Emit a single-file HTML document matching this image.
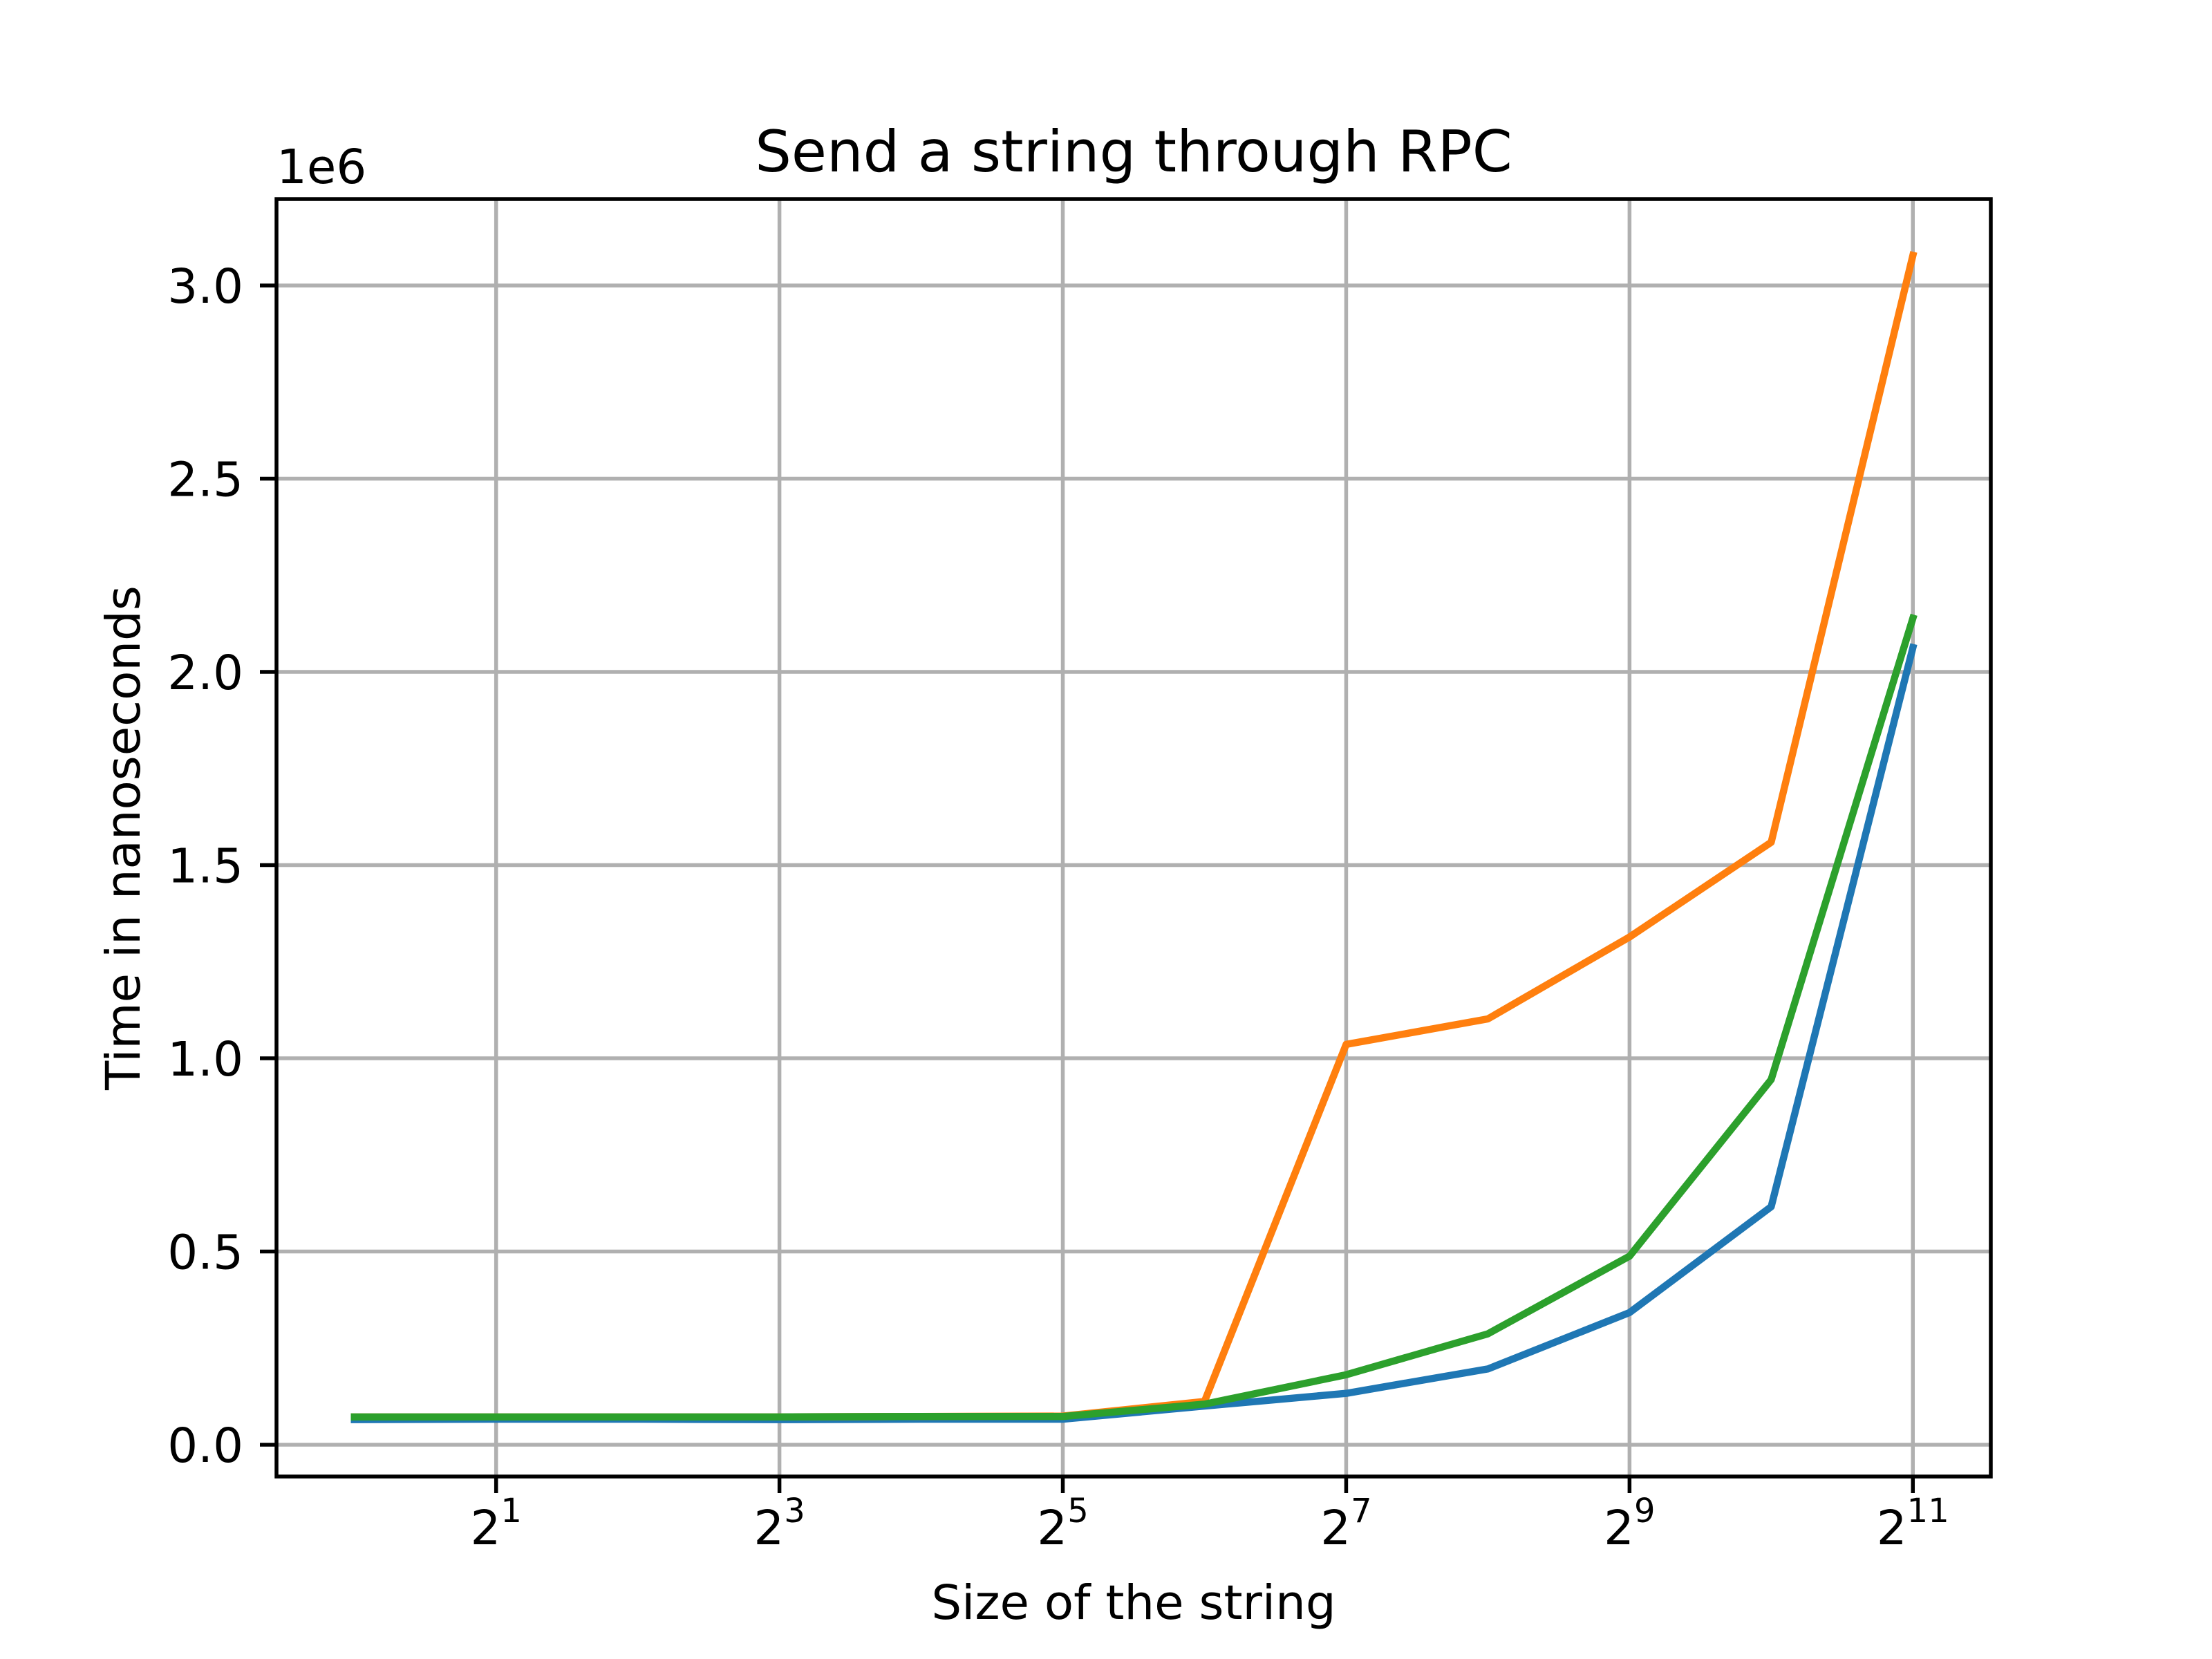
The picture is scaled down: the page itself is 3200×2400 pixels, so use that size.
<!DOCTYPE html>
<html><head><meta charset="utf-8"><style>
html,body{margin:0;padding:0;background:#fff}
svg{display:block}
text{font-family:"DejaVu Sans","Liberation Sans",sans-serif;fill:#000}
</style></head><body>
<svg id="chart" width="3200" height="2400" viewBox="0 0 3200 2400" xmlns="http://www.w3.org/2000/svg">
<rect width="3200" height="2400" fill="#fff"/>
<g id="grid"></g>
<g id="series"></g>
<rect x="400" y="288" width="2480" height="1848" fill="none" stroke="#000" stroke-width="5.5"/>
<g id="ticks"></g>
<text x="1640" y="248" font-size="83" text-anchor="middle">Send a string through RPC</text>
<text x="400" y="265" font-size="69">1e6</text>
<text x="1640" y="2342" font-size="69" text-anchor="middle">Size of the string</text>
<text x="0" y="0" font-size="69" text-anchor="middle" transform="translate(202,1212) rotate(-90)">Time in nanoseconds</text>
</svg>
<script>
const exponents = [0,1,2,3,4,5,6,7,8,9,10,11];
const seriesBlue = [0.065,0.066,0.066,0.065,0.066,0.066,0.10,0.133,0.196,0.342,0.616,2.063];
const seriesOrange = [0.072,0.072,0.072,0.072,0.073,0.074,0.112,1.036,1.102,1.314,1.559,3.078];
const seriesGreen = [0.072,0.072,0.072,0.072,0.073,0.073,0.105,0.181,0.287,0.488,0.945,2.139];
const yTicks = [0,0.5,1.0,1.5,2.0,2.5,3.0];
const yTickLabels = ["0.0","0.5","1.0","1.5","2.0","2.5","3.0"];
const xTicks = [1,3,5,7,9,11];

const NS = "http://www.w3.org/2000/svg";
const x0 = 400, x1 = 2880, yTop = 288, yBot = 2136;
const xMin = -0.55, xMax = 11.55;
const xs = e => x0 + (e - xMin) / (xMax - xMin) * (x1 - x0);
const ys = v => 2090 - v * 559;
function mk(tag, attrs, parent){ const el=document.createElementNS(NS,tag); for(const k in attrs) el.setAttribute(k,attrs[k]); parent.appendChild(el); return el; }
const grid=document.getElementById('grid'), ticks=document.getElementById('ticks'), ser=document.getElementById('series');

yTicks.forEach((v,i)=>{
  const y=ys(v);
  const g=mk('line',{x1:x0,x2:x1,y1:y,y2:y,stroke:'#b0b0b0','stroke-width':5.5},grid);
  
  
  const t=mk('line',{x1:x0-24,x2:x0,y1:y,y2:y,stroke:'#000','stroke-width':5.5},ticks);
  
  
  const l=mk('text',{x:x0-48,y:y+25,'font-size':69,'text-anchor':'end'},ticks);
  l.textContent=yTickLabels[i];
  
  
});
xTicks.forEach(e=>{
  const x=xs(e);
  const g=mk('line',{x1:x,x2:x,y1:yTop,y2:yBot,stroke:'#b0b0b0','stroke-width':5.5},grid);
  
  
  const t=mk('line',{x1:x,x2:x,y1:yBot,y2:yBot+24,stroke:'#000','stroke-width':5.5},ticks);
  
  
  const l=mk('text',{x:x,y:2234,'font-size':69,'text-anchor':'middle'},ticks);
  const b=mk('tspan',{},l); b.textContent='2';
  const s=mk('tspan',{dy:-32,'font-size':48},l); s.textContent=String(e);
  
  
});
function line(vals,color,name){
  const d=vals.map((v,i)=>(i?'L':'M')+xs(exponents[i]).toFixed(1)+','+ys(v).toFixed(1)).join(' ');
  const p=mk('path',{d:d,fill:'none',stroke:color,'stroke-width':10.4,'stroke-linejoin':'round','stroke-linecap':'square'},ser);
  
  
}
line(seriesBlue,'#1f77b4','series-blue-line');
line(seriesOrange,'#ff7f0e','series-orange-line');
line(seriesGreen,'#2ca02c','series-green-line');
</script>
</body></html>
